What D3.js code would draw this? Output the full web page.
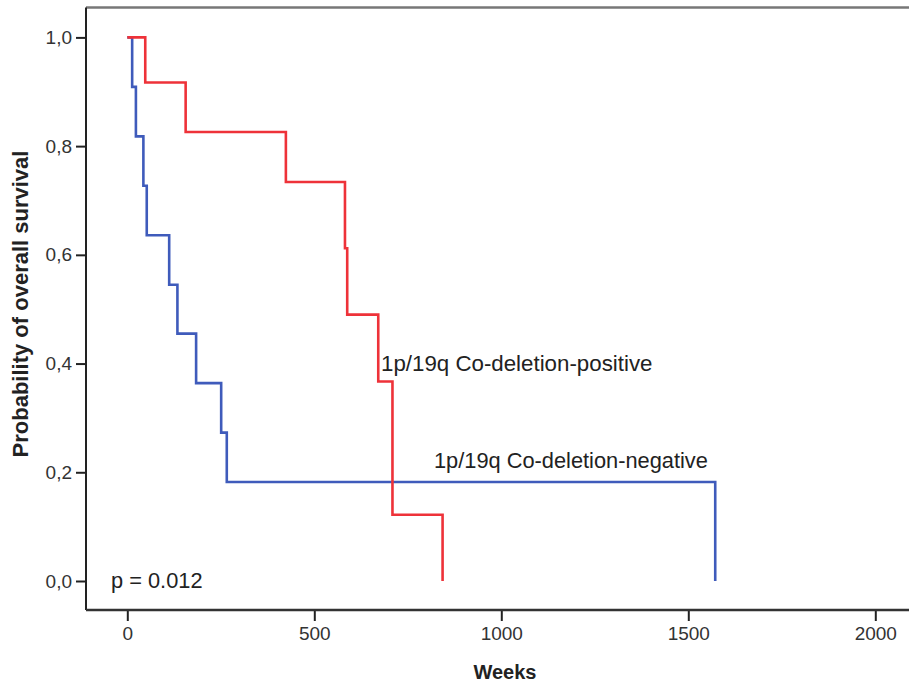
<!DOCTYPE html>
<html>
<head>
<meta charset="utf-8">
<script src="https://cdn.jsdelivr.net/npm/d3@7"></script>
<style>
  html, body { margin: 0; padding: 0; background: #fff; }
  svg { display: block; }
  text { font-family: "Liberation Sans", Arial, sans-serif; fill: #222; }
</style>
</head>
<body>
<svg id="chart" width="909" height="688"></svg>
<script>
// ---- data ----
const posWeeks = [0, 48, 156, 424, 582, 588, 671, 709, 843];
const posSurv  = [1, 0.917, 0.826, 0.734, 0.612, 0.490, 0.367, 0.122, 0];
const negWeeks = [0, 13, 23, 43, 52, 112, 134, 184, 251, 266, 1572];
const negSurv  = [1, 0.909, 0.818, 0.727, 0.636, 0.545, 0.455, 0.364, 0.273, 0.182, 0];
const xTicks = [0, 500, 1000, 1500, 2000];
const yTicks = [0, 0.2, 0.4, 0.6, 0.8, 1.0];
const posLabel = "1p/19q Co-deletion-positive";
const negLabel = "1p/19q Co-deletion-negative";
const pLabel = "p = 0.012";
const xTitle = "Weeks";
const yTitle = "Probability of overall survival";

// ---- layout ----
const svg = d3.select("#chart");
const frame = { left: 86, top: 7.5, right: 912, bottom: 610 };
const x = d3.scaleLinear().domain([0, 2000]).range([127.3, 875.3]);
const y = d3.scaleLinear().domain([0, 1]).range([581, 37.4]);

// frame top
svg.append("line").attr("x1", frame.left).attr("x2", frame.right)
  .attr("y1", frame.top).attr("y2", frame.top)
  .attr("stroke", "#777").attr("stroke-width", 2.5);

// axes
const yAxis = d3.axisLeft(y).tickValues(yTicks).tickSize(10).tickPadding(4)
  .tickFormat(d => d3.format(".1f")(d).replace(".", ","));
const gy = svg.append("g").attr("transform", `translate(${frame.left},0)`).call(yAxis);
gy.select(".domain").remove();
gy.selectAll(".tick line").attr("stroke", "#222").attr("stroke-width", 2);
gy.selectAll(".tick text").attr("font-size", 19).style("fill", "#333");

const xAxis = d3.axisBottom(x).tickValues(xTicks).tickSize(11).tickPadding(6)
  .tickFormat(d3.format("d"));
const gx = svg.append("g").attr("transform", `translate(0,${frame.bottom})`).call(xAxis);
gx.select(".domain").remove();
gx.selectAll(".tick line").attr("stroke", "#222").attr("stroke-width", 2);
gx.selectAll(".tick text").attr("font-size", 19).style("fill", "#333");

svg.append("line").attr("x1", frame.left).attr("x2", frame.left)
  .attr("y1", frame.top).attr("y2", frame.bottom)
  .attr("stroke", "#222").attr("stroke-width", 2);
svg.append("line").attr("x1", frame.left).attr("x2", frame.right)
  .attr("y1", frame.bottom).attr("y2", frame.bottom)
  .attr("stroke", "#333").attr("stroke-width", 2.5);

// curves
const line = d3.line().x(d => x(d[0])).y(d => y(d[1])).curve(d3.curveStepAfter);
const negPts = negWeeks.map((w, i) => [w, negSurv[i]]);
const posPts = posWeeks.map((w, i) => [w, posSurv[i]]);
svg.append("path").attr("d", line(negPts)).attr("fill", "none")
  .attr("stroke", "#3f5bbb").attr("stroke-width", 2.6);
svg.append("path").attr("d", line(posPts)).attr("fill", "none")
  .attr("stroke", "#ee3239").attr("stroke-width", 2.6);

// annotations
svg.append("text").attr("x", 381).attr("y", 371).attr("font-size", 22.3).text(posLabel);
svg.append("text").attr("x", 434).attr("y", 468).attr("font-size", 21.8).text(negLabel);
svg.append("text").attr("x", 111).attr("y", 588).attr("font-size", 21.8).text(pLabel);

// titles
svg.append("text").attr("x", 505).attr("y", 679).attr("text-anchor", "middle")
  .attr("font-size", 20).attr("font-weight", "bold").text(xTitle);
svg.append("text").attr("transform", "translate(28,304) rotate(-90)")
  .attr("text-anchor", "middle").attr("font-size", 22).attr("font-weight", "bold").text(yTitle);
</script>
</body>
</html>
